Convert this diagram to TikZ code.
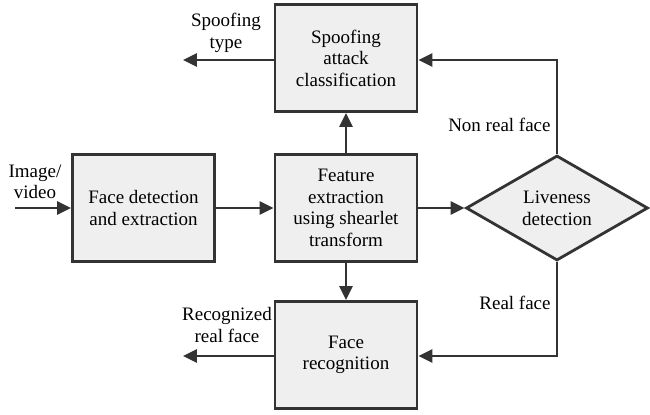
\documentclass[tikz,border=0pt]{standalone}
\usepackage{fontspec}
\setmainfont{Liberation Serif}
\usetikzlibrary{arrows.meta, shapes.geometric}

\definecolor{linecol}{HTML}{333333}
\definecolor{boxfill}{HTML}{EFEFEF}

\tikzset{
  blk/.style={draw=linecol, fill=boxfill, line width=1.4pt, minimum width=71pt, minimum height=53.5pt, align=center, inner sep=1pt},
  decide/.style={draw=linecol, fill=boxfill, line width=1.4pt, diamond, minimum width=91pt, minimum height=52.5pt, align=center, inner sep=0pt},
  flow/.style={draw=linecol, line width=1.4pt, -{Triangle[length=7pt,width=6.5pt]}},
  lbl/.style={align=center, inner sep=0pt}
}

\begin{document}
\begin{tikzpicture}[x=0.5pt,y=-0.5pt,font=\fontsize{9.5}{10.8}\selectfont]
\useasboundingbox (0,0) rectangle (650,414);

% blocks
\node[blk] (spoof) at (346,58) {Spoofing\\attack\\classification};
\node[blk] (detect) at (143.5,208) {Face detection\\and extraction};
\node[blk] (feat) at (346,208) {Feature\\extraction\\using shearlet\\transform};
\node[blk] (recog) at (346,355) {Face\\recognition};
\node[decide] (live) at (557,208) {Liveness\\detection};

% free ends
\coordinate (in) at (15,208);
\coordinate (spoofout) at (183,60);
\coordinate (recogout) at (183,356);

% connectors
\draw[flow] (in) -- (detect);
\draw[flow] (detect) -- (feat);
\draw[flow] (feat) -- (live);
\draw[flow] (feat) -- (spoof);
\draw[flow] (feat) -- (recog);
\draw[flow] (spoof.west |- spoofout) -- (spoofout);
\draw[flow] (recog.west |- recogout) -- (recogout);
\draw[flow] (live.north) |- (spoof.east |- spoofout);
\draw[flow] (live.south) |- (recog.east |- recogout);

% labels
\node[lbl] (l1) at (35,182) {Image/\\video};
\node[lbl] (l2) at (226,33) {Spoofing\\type};
\node[lbl] (l3) at (227,325) {Recognized\\real face};
\node[lbl, anchor=east] (l4) at (551,125) {Non real face};
\node[lbl, anchor=east] (l5) at (551,303) {Real face};
\end{tikzpicture}
\end{document}
